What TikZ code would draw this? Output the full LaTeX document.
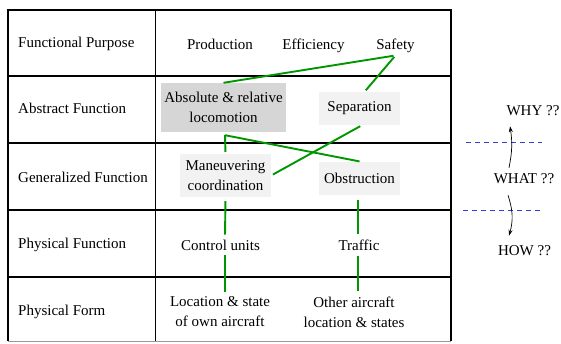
\documentclass[tikz,border=0pt]{standalone}
\usepackage{fontspec}
\setmainfont{Liberation Serif}
\usetikzlibrary{arrows.meta}

\definecolor{linkgreen}{RGB}{0,150,0}
\definecolor{dashblue}{RGB}{60,60,220}

\begin{document}
\begin{tikzpicture}[x=1pt,y=-1pt,
    txt/.style={font=\fontsize{15}{20}\selectfont, align=center, inner sep=3pt},
    rowlab/.style={font=\fontsize{15}{20}\selectfont, anchor=base west, inner sep=0pt},
    darkbox/.style={txt, fill=black!16, inner sep=0pt},
    lightbox/.style={txt, fill=black!5, inner sep=0pt},
    link/.style={linkgreen, line width=1.9pt, shorten <=2pt, shorten >=2pt},
    dashline/.style={dashblue, dash pattern=on 5pt off 4pt, line width=0.8pt},
    arr/.style={-{Stealth[length=6pt,width=4pt]}, line width=0.7pt}]

	\useasboundingbox (0,0) rectangle (561,343);

	% the table
	\draw[line width=1.2pt] (8,76) -- (451,76);
	\draw[line width=1.2pt] (8,143) -- (451,143);
	\draw[line width=1.2pt] (8,210) -- (451,210);
	\draw[line width=1.2pt] (8,277) -- (451,277);
	\draw[line width=0.9pt] (155,10) -- (155,341);
	\draw[black!40, line width=0.7pt] (8,341) -- (451,341);
	\draw[line width=2.4pt] (8,341) -- (8,10) -- (451,10) -- (451,341);

	% row labels
	\node[rowlab] (fp) at (18,47.5) {Functional Purpose};
	\node[rowlab] (af) at (18,113) {Abstract Function};
	\node[rowlab] (gf) at (18,182) {Generalized Function};
	\node[rowlab] (pf) at (18,248) {Physical Function};
	\node[rowlab] (pform) at (18,315) {Physical Form};

	% functional purpose
	\node[txt, anchor=base] (prod) at (220,49) {Production};
	\node[txt, anchor=base] (effic) at (313.5,49) {Efficiency};
	\node[txt, anchor=base] (safety) at (395.5,49) {Safety};

	% abstract function
	\node[darkbox, minimum width=125pt, minimum height=49pt] (absloc) at (223.5,107.5)
		{Absolute \& relative\\locomotion};
	\node[lightbox, minimum width=81pt, minimum height=33pt] (separ) at (359.5,108.5) {Separation};

	% generalized function
	\node[lightbox, minimum width=91pt, minimum height=43pt] (manv) at (225.5,175.5)
		{Maneuvering\\coordination};
	\node[lightbox, minimum width=81pt, minimum height=33pt] (obstr) at (359.5,178.5) {Obstruction};

	% physical function
	\node[txt] (ctrl) at (220.5,245) {Control units};
	\node[txt] (traffic) at (359,245) {Traffic};

	% physical form
	\node[txt] (ownac) at (220,312) {Location \& state\\of own aircraft};
	\node[txt] (otherac) at (354,312) {Other aircraft\\location \& states};

	% links
	\coordinate (absbot) at ([xshift=1.5pt,yshift=-3pt]absloc.south);
	\draw[link, shorten <=0pt] (absloc.north) -- (safety.south);
	\draw[link] (safety.south) -- ([xshift=5pt]separ.north);
	\draw[link, shorten <=0pt] (absbot) -- (manv.north);
	\draw[link, shorten <=0pt] (absbot) -- ([xshift=2pt]obstr.north);
	\draw[link] (manv.east) -- ([xshift=2.5pt]separ.south);
	\draw[link, shorten <=4pt] (manv.south) -- ([xshift=4.5pt]ctrl.north);
	\draw[link] ([xshift=4.5pt]ctrl.south) -- ([xshift=5pt]ownac.north);
	\draw[link, shorten <=5pt] ([xshift=-1.5pt]obstr.south) -- ([xshift=-1pt]traffic.north);
	\draw[link] ([xshift=-1pt]traffic.south) -- ([xshift=4pt]otherac.north);

	% why / what / how
	\node[txt] (why) at (533,111) {WHY ??};
	\node[txt] (what) at (524,179) {WHAT ??};
	\node[txt] (how) at (524.5,251) {HOW ??};

	\draw[dashline] (466,142) -- (542,142);
	\draw[dashline] (463,210) -- (540,210);

	\draw[arr] ([xshift=-15pt,yshift=3pt]what.north) to[bend right=10] ([xshift=-23pt,yshift=-7pt]why.south);
	\draw[arr] ([xshift=-16pt,yshift=-8pt]what.south) to[bend left=17] ([xshift=-15.5pt,yshift=7pt]how.north);

\end{tikzpicture}
\end{document}
